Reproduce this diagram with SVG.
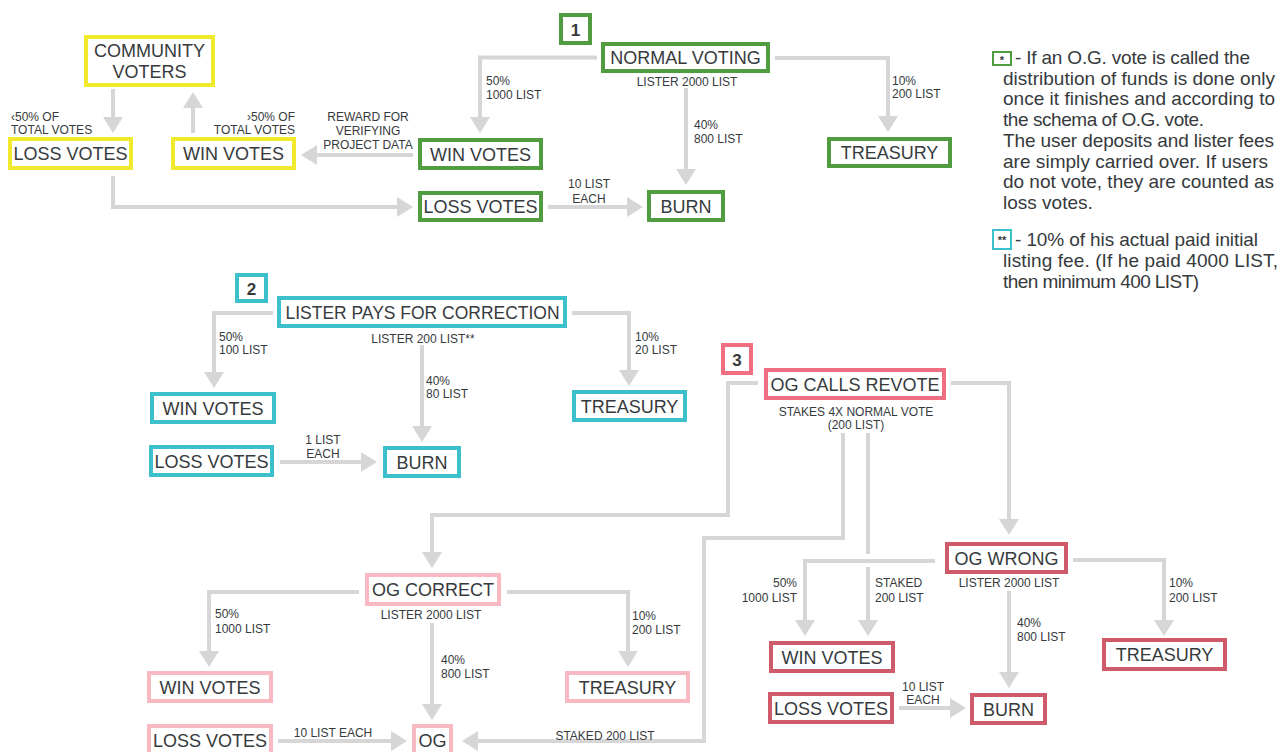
<svg xmlns="http://www.w3.org/2000/svg" width="1282" height="752" viewBox="0 0 1282 752">
<defs>
<marker id="ah" viewBox="0 0 16 20" markerWidth="16" markerHeight="20" refX="4" refY="10" orient="auto" markerUnits="userSpaceOnUse">
<path d="M0,0 L16,10 L0,20 Z" fill="#d6d6d6"/>
</marker>
<style>
.bx{fill:#fff;stroke-width:4}
.g{stroke:#519b41}.y{stroke:#f1e92c}.c{stroke:#3cc0cc}.r{stroke:#ef6e80}.d{stroke:#cf5a69}.p{stroke:#f8b9c3}
.t{font-family:"Liberation Sans",Arial,sans-serif;font-size:18px;fill:#363a3d;text-anchor:middle}
.n{font-family:"Liberation Sans",Arial,sans-serif;font-size:17px;font-weight:bold;fill:#363a3d;text-anchor:middle}
.s{font-family:"Liberation Sans",Arial,sans-serif;font-size:12px;fill:#363a3d}
.m{text-anchor:middle}.e{text-anchor:end}
.note{font-family:"Liberation Sans",Arial,sans-serif;font-size:19px;fill:#363a3d}
.cn{fill:none;stroke:#d6d6d6;stroke-width:4}
.ar{marker-end:url(#ah)}
</style>
</defs>
<rect width="1282" height="752" fill="#fff"/>

<g id="connectors">
<path class="cn ar" d="M597 57.5 H480 V121"/>
<path class="cn ar" d="M686 88 V173"/>
<path class="cn ar" d="M775 58 H888 V120"/>
<path class="cn ar" d="M548 207 H631"/>
<path class="cn ar" d="M413 155 H313"/>
<path class="cn ar" d="M113 89 V121"/>
<path class="cn ar" d="M193 133 V104"/>
<path class="cn ar" d="M113 176 V207 H401"/>

<path class="cn ar" d="M273 313 H214 V376"/>
<path class="cn ar" d="M422 345 V430"/>
<path class="cn ar" d="M572 313 H629 V374"/>
<path class="cn ar" d="M280 462 H365"/>

<path class="cn ar" d="M758 383 H728 V515 H432 V556"/>
<path class="cn ar" d="M951 383 H1009 V523"/>
<path class="cn ar" d="M843 433 V538 H704 V741 H474"/>
<path class="cn" d="M868 433 V554"/>
<path class="cn ar" d="M359 592 H209 V655"/>
<path class="cn ar" d="M507 592 H628 V655"/>
<path class="cn ar" d="M432 623 V708"/>
<path class="cn ar" d="M278 741 H395"/>
<path class="cn ar" d="M935 561 H805 V624"/>
<path class="cn ar" d="M868 567 V624"/>
<path class="cn ar" d="M1009 591 V676"/>
<path class="cn ar" d="M1073 560 H1164 V624"/>
<path class="cn ar" d="M899 708 H954"/>
</g>

<g id="connector-labels">
<text class="s m" x="687" y="85.5">LISTER 2000 LIST</text>
<text class="s" x="486" y="84.5">50%</text>
<text class="s" x="486" y="98.5">1000 LIST</text>
<text class="s" x="694" y="128.5">40%</text>
<text class="s" x="694" y="142.5">800 LIST</text>
<text class="s m" x="589" y="187.5">10 LIST</text>
<text class="s m" x="589" y="202.5">EACH</text>
<text class="s" x="892" y="84.5">10%</text>
<text class="s" x="892" y="97.5">200 LIST</text>
<text class="s" x="11" y="121">‹50% OF</text>
<text class="s" x="11" y="133.5">TOTAL VOTES</text>
<text class="s e" x="295" y="121">›50% OF</text>
<text class="s e" x="295" y="133.5">TOTAL VOTES</text>
<text class="s m" x="368" y="120.5">REWARD FOR</text>
<text class="s m" x="368" y="134.5">VERIFYING</text>
<text class="s m" x="368" y="148.5">PROJECT DATA</text>

<text class="s m" x="423" y="342.5">LISTER 200 LIST**</text>
<text class="s" x="219" y="340.5">50%</text>
<text class="s" x="219" y="353.5">100 LIST</text>
<text class="s" x="426" y="384.5">40%</text>
<text class="s" x="426" y="397.5">80 LIST</text>
<text class="s m" x="323" y="443.5">1 LIST</text>
<text class="s m" x="323" y="457.5">EACH</text>
<text class="s" x="635" y="340.5">10%</text>
<text class="s" x="635" y="353.5">20 LIST</text>

<text class="s m" x="856" y="415.5">STAKES 4X NORMAL VOTE</text>
<text class="s m" x="856" y="428.5">(200 LIST)</text>
<text class="s m" x="431" y="618.5">LISTER 2000 LIST</text>
<text class="s" x="215" y="617.5">50%</text>
<text class="s" x="215" y="632.5">1000 LIST</text>
<text class="s" x="441" y="663.5">40%</text>
<text class="s" x="441" y="677.5">800 LIST</text>
<text class="s" x="632" y="619.5">10%</text>
<text class="s" x="632" y="633.5">200 LIST</text>
<text class="s m" x="333" y="736.5">10 LIST EACH</text>
<text class="s m" x="605" y="739.5">STAKED 200 LIST</text>
<text class="s e" x="797" y="586.5">50%</text>
<text class="s e" x="797" y="601.5">1000 LIST</text>
<text class="s" x="875" y="586.5">STAKED</text>
<text class="s" x="875" y="601.5">200 LIST</text>
<text class="s m" x="1009" y="586.5">LISTER 2000 LIST</text>
<text class="s" x="1017" y="626.5">40%</text>
<text class="s" x="1017" y="640.5">800 LIST</text>
<text class="s" x="1169" y="586.5">10%</text>
<text class="s" x="1169" y="601.5">200 LIST</text>
<text class="s m" x="923" y="690.5">10 LIST</text>
<text class="s m" x="923" y="703.5">EACH</text>
</g>

<g id="n1-num"><rect class="bx g" x="561" y="15" width="29" height="28"/><text class="n" x="575.5" y="35.5">1</text></g>
<g id="n1-normal"><rect class="bx g" x="603" y="44" width="165" height="27"/><text class="t" x="685.5" y="64">NORMAL VOTING</text></g>
<g id="n1-win"><rect class="bx g" x="420" y="140" width="121" height="28"/><text class="t" x="480.5" y="160.5">WIN VOTES</text></g>
<g id="n1-loss"><rect class="bx g" x="420" y="193" width="121" height="27"/><text class="t" x="480.5" y="213">LOSS VOTES</text></g>
<g id="n1-burn"><rect class="bx g" x="649" y="192" width="74" height="28"/><text class="t" x="686" y="212.5">BURN</text></g>
<g id="n1-treasury"><rect class="bx g" x="829" y="139" width="121" height="27"/><text class="t" x="889.5" y="159">TREASURY</text></g>
<g id="n1-community"><rect class="bx y" x="86" y="37" width="127" height="48"/><text class="t" x="149.5" y="57">COMMUNITY</text><text class="t" x="149.5" y="78">VOTERS</text></g>
<g id="n1-yloss"><rect class="bx y" x="10" y="139" width="121" height="29"/><text class="t" x="70.5" y="160">LOSS VOTES</text></g>
<g id="n1-ywin"><rect class="bx y" x="173" y="139" width="121" height="29"/><text class="t" x="233.5" y="160">WIN VOTES</text></g>

<g id="n2-num"><rect class="bx c" x="237" y="275" width="29" height="26"/><text class="n" x="251.5" y="294.5">2</text></g>
<g id="n2-lister"><rect class="bx c" x="279" y="298" width="286" height="28"/><text class="t" x="422.5" y="318.5" textLength="274" lengthAdjust="spacingAndGlyphs">LISTER PAYS FOR CORRECTION</text></g>
<g id="n2-win"><rect class="bx c" x="152" y="394" width="122" height="28"/><text class="t" x="213" y="414.5">WIN VOTES</text></g>
<g id="n2-loss"><rect class="bx c" x="151" y="447" width="121" height="28"/><text class="t" x="211.5" y="467.5">LOSS VOTES</text></g>
<g id="n2-burn"><rect class="bx c" x="385" y="448" width="74" height="28"/><text class="t" x="422" y="468.5">BURN</text></g>
<g id="n2-treasury"><rect class="bx c" x="574" y="392" width="111" height="28"/><text class="t" x="629.5" y="412.5">TREASURY</text></g>

<g id="n3-num"><rect class="bx r" x="723" y="345" width="28" height="28"/><text class="n" x="737" y="365.5">3</text></g>
<g id="n3-revote"><rect class="bx r" x="766" y="370" width="178" height="28"/><text class="t" x="855" y="390.5">OG CALLS REVOTE</text></g>
<g id="n3-correct"><rect class="bx p" x="367" y="575" width="132" height="29"/><text class="t" x="433" y="596">OG CORRECT</text></g>
<g id="n3-cwin"><rect class="bx p" x="149" y="673" width="122" height="28"/><text class="t" x="210" y="693.5">WIN VOTES</text></g>
<g id="n3-ctreasury"><rect class="bx p" x="567" y="673" width="121" height="28"/><text class="t" x="627.5" y="693.5">TREASURY</text></g>
<g id="n3-closs"><rect class="bx p" x="149" y="726" width="122" height="32"/><text class="t" x="210" y="747">LOSS VOTES</text></g>
<g id="n3-og"><rect class="bx p" x="414" y="726" width="37" height="32"/><text class="t" x="432.5" y="747">OG</text></g>
<g id="n3-wrong"><rect class="bx d" x="947" y="544" width="119" height="28"/><text class="t" x="1006.5" y="564.5">OG WRONG</text></g>
<g id="n3-wwin"><rect class="bx d" x="771" y="643" width="122" height="28"/><text class="t" x="832" y="663.5">WIN VOTES</text></g>
<g id="n3-wloss"><rect class="bx d" x="770" y="694" width="122" height="28"/><text class="t" x="831" y="714.5">LOSS VOTES</text></g>
<g id="n3-wburn"><rect class="bx d" x="972" y="695" width="73" height="28"/><text class="t" x="1008.5" y="715.5">BURN</text></g>
<g id="n3-wtreasury"><rect class="bx d" x="1104" y="640" width="121" height="29"/><text class="t" x="1164.5" y="661">TREASURY</text></g>

<g id="note1">
<rect x="993" y="52" width="18" height="13" fill="#fff" stroke="#519b41" stroke-width="2"/>
<text class="s m" x="1002" y="64" style="font-size:11px;font-weight:bold">*</text>
<text class="note" x="1015" y="64" textLength="235" lengthAdjust="spacing">- If an O.G. vote is called the</text>
<text class="note" x="1003" y="84.7" textLength="272" lengthAdjust="spacing">distribution of funds is done only</text>
<text class="note" x="1003" y="105.4" textLength="272" lengthAdjust="spacing">once it finishes and according to</text>
<text class="note" x="1003" y="126.1" textLength="201" lengthAdjust="spacing">the schema of O.G. vote.</text>
<text class="note" x="1003" y="146.8" textLength="271" lengthAdjust="spacing">The user deposits and lister fees</text>
<text class="note" x="1003" y="167.5" textLength="265" lengthAdjust="spacing">are simply carried over. If users</text>
<text class="note" x="1003" y="188.2" textLength="271" lengthAdjust="spacing">do not vote, they are counted as</text>
<text class="note" x="1003" y="209">loss votes.</text>
</g>
<g id="note2">
<rect x="993" y="230" width="18" height="19" fill="#fff" stroke="#3cc0cc" stroke-width="2"/>
<text class="s m" x="1002" y="244" style="font-size:11px;font-weight:bold">**</text>
<text class="note" x="1015" y="246" textLength="243" lengthAdjust="spacing">- 10% of his actual paid initial</text>
<text class="note" x="1003" y="267" textLength="275" lengthAdjust="spacing">listing fee. (If he paid 4000 LIST,</text>
<text class="note" x="1003" y="288" textLength="196" lengthAdjust="spacing">then minimum 400 LIST)</text>
</g>
</svg>
